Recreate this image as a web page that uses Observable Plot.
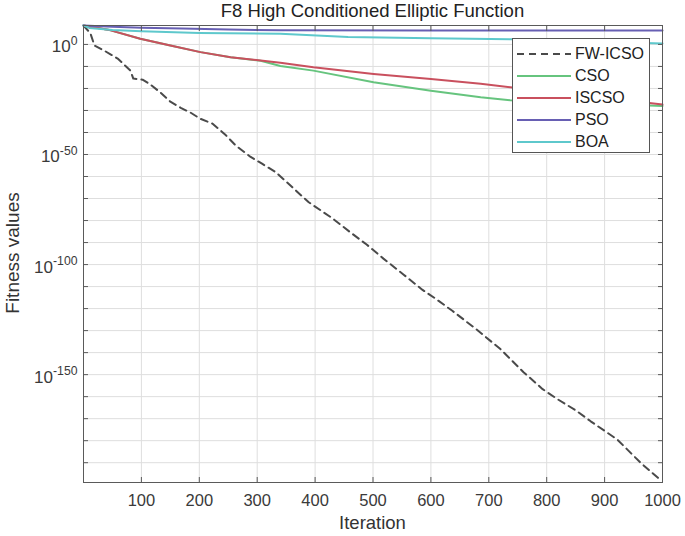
<!DOCTYPE html>
<html><head><meta charset="utf-8">
<script src="https://cdn.jsdelivr.net/npm/d3@7"></script>
<script src="https://cdn.jsdelivr.net/npm/@observablehq/plot@0.6"></script>
<style>
body{margin:0;background:#fff;}
#wrap{position:relative;width:685px;height:536px;font-family:"Liberation Sans",Arial,Helvetica,sans-serif;color:#333;overflow:hidden;}
#title{position:absolute;left:83px;width:579px;top:0px;text-align:center;font-size:18.5px;color:#222;line-height:22px;}
#xlabel{position:absolute;left:83px;width:579px;top:512px;text-align:center;font-size:18.5px;line-height:21px;}
#ylabel{position:absolute;left:12px;top:253px;transform:translate(-50%,-50%) rotate(-90deg);font-size:19px;white-space:nowrap;line-height:21px;}
#legend{position:absolute;left:512px;top:38px;width:136px;height:113px;border:1px solid #555;background:#fff;}
.row{position:absolute;left:0;height:20px;width:136px;}
.row svg{position:absolute;left:4px;top:5px;}
.row span{position:absolute;left:62px;top:0;font-size:16px;line-height:20px;color:#222;}
</style></head><body>
<div id="wrap"></div>
<script>
// ---- data ----
const xTickValues = [100, 200, 300, 400, 500, 600, 700, 800, 900, 1000];
const yLabelExponents = [0, -50, -100, -150];
const yGridExponents = [0, -10, -20, -30, -40, -50, -60, -70, -80, -90, -100, -110, -120, -130, -140, -150, -160, -170, -180, -190];
const seriesNames = ["FW-ICSO", "CSO", "ISCSO", "PSO", "BOA"];

const fwicsoIter = [0, 12, 19, 35, 59, 81, 86, 102, 116, 133, 150, 168, 185, 202, 223, 245, 262, 288, 309, 332, 389, 430, 461, 489, 518, 553, 585, 608, 637, 680, 720, 760, 793, 819, 850, 876, 922, 962, 997];
const fwicsoLog10 = [8.6, 5.0, -0.5, -2.7, -6.4, -11.9, -15.5, -16, -18.3, -21.9, -26, -28.8, -31, -33.8, -36, -41, -45.7, -51, -54.3, -58, -71.7, -79, -85.4, -90.9, -97.3, -104.6, -111.4, -115.5, -121, -129.7, -138.4, -148.9, -156.6, -161.2, -166.2, -171.2, -179.5, -190, -198];

const csoIter = [0, 47, 98, 150, 202, 254, 306, 340, 397, 501, 600, 686, 737, 1000];
const csoLog10 = [8.6, 6.4, 2.6, -0.5, -3.5, -5.8, -7.4, -9.8, -11.9, -17.2, -21.0, -24.0, -25.4, -28.0];

const iscsoIter = [0, 47, 98, 150, 202, 254, 306, 340, 397, 501, 600, 686, 737, 1000];
const iscsoLog10 = [8.6, 6.4, 2.6, -0.5, -3.5, -5.8, -7.3, -8.3, -10.4, -13.4, -15.7, -17.9, -19.5, -27.3];

const psoIter = [0, 50, 100, 170, 250, 340, 600, 1000];
const psoLog10 = [8.6, 8.0, 7.6, 7.2, 6.8, 6.4, 6.3, 6.3];

const boaIter = [0, 10, 50, 100, 200, 340, 457, 600, 740, 850, 1000];
const boaLog10 = [8.6, 7.5, 6.6, 6.0, 5.2, 4.8, 3.4, 2.8, 2.3, 1.6, 0.4];

// ---- styles ----
const seriesStyle = {
  "FW-ICSO": {stroke: "#4a4a4a", dash: "7,5"},
  "CSO": {stroke: "#66c47e", dash: null},
  "ISCSO": {stroke: "#c9505e", dash: null},
  "PSO": {stroke: "#675fb3", dash: null},
  "BOA": {stroke: "#5ec8cc", dash: null}
};

const raw = {
  "FW-ICSO": [fwicsoIter, fwicsoLog10],
  "CSO": [csoIter, csoLog10],
  "ISCSO": [iscsoIter, iscsoLog10],
  "PSO": [psoIter, psoLog10],
  "BOA": [boaIter, boaLog10]
};
const table = {};
for (const name of seriesNames) {
  const [it, lg] = raw[name];
  table[name] = it.map((x, i) => ({iter: x, value: Math.pow(10, lg[i]), series: name}));
}

const yGridValues = yGridExponents.map(e => Math.pow(10, e));
const yLabelValues = yLabelExponents.map(e => Math.pow(10, e));
const none = () => "";

const lineMarks = seriesNames.map(name => Plot.line(table[name], {
  x: "iter", y: "value",
  stroke: seriesStyle[name].stroke,
  strokeWidth: 2,
  strokeDasharray: seriesStyle[name].dash,
  strokeLinejoin: "round"
}));

const svg = Plot.plot({
  width: 685, height: 536,
  marginLeft: 83, marginRight: 23, marginTop: 25, marginBottom: 54,
  style: {fontFamily: '"Liberation Sans", Arial, Helvetica, sans-serif', fontSize: "16px", color: "#333", background: "#fff", overflow: "visible"},
  x: {domain: [0, 1000], label: null},
  y: {type: "log", domain: [Math.pow(10, -199), Math.pow(10, 8.6)], label: null},
  marks: [
    Plot.gridY(yGridValues, {stroke: "#dedede", strokeOpacity: 1}),
    Plot.gridX(xTickValues, {stroke: "#dedede", strokeOpacity: 1}),
    ...lineMarks,
    Plot.frame({stroke: "#5a5a5a"}),
    Plot.axisX(xTickValues, {anchor: "bottom", tickSize: -5, tickFormat: none, stroke: "#5a5a5a", label: null}),
    Plot.axisX(xTickValues, {anchor: "top", tickSize: -5, tickFormat: none, stroke: "#5a5a5a", label: null}),
    Plot.axisY(yGridValues, {anchor: "left", tickSize: -5, tickFormat: none, stroke: "#5a5a5a", label: null}),
    Plot.axisY(yGridValues, {anchor: "right", tickSize: -5, tickFormat: none, stroke: "#5a5a5a", label: null}),
    Plot.axisX(xTickValues, {anchor: "bottom", tickSize: 0, tickPadding: 12, fontSize: 16.5, fill: "#3a3a3a", label: null,
      tickFormat: d => String(d)}),
    Plot.axisY(yLabelValues, {anchor: "left", tickSize: 0, tickPadding: 6, fontSize: 17, fill: "#3a3a3a", label: null,
      tickFormat: d => "10^" + Math.round(Math.log10(d))})
  ]
});

const wrap = document.getElementById("wrap");
wrap.appendChild(svg);

// superscript exponents on y tick labels
d3.select(svg).selectAll('g[aria-label="y-axis tick label"] text').each(function () {
  const t = this.textContent;
  if (!t.includes("^")) return;
  const exp = t.split("^")[1];
  const sel = d3.select(this);
  sel.text(null);
  sel.append("tspan").attr("dy", "0.15em").text("10");
  sel.append("tspan").attr("dy", "-0.6em").attr("font-size", "0.72em").text(exp);
});

// title & axis labels
const title = document.createElement("div"); title.id = "title"; title.textContent = "F8 High Conditioned Elliptic Function"; wrap.appendChild(title);
const xl = document.createElement("div"); xl.id = "xlabel"; xl.textContent = "Iteration"; wrap.appendChild(xl);
const yl = document.createElement("div"); yl.id = "ylabel"; yl.textContent = "Fitness values"; wrap.appendChild(yl);

// legend
const legend = document.createElement("div"); legend.id = "legend";
seriesNames.forEach((name, i) => {
  const row = document.createElement("div"); row.className = "row";
  row.style.top = (5 + 22 * i) + "px";
  const st = seriesStyle[name];
  row.innerHTML = `<svg width="54" height="10"><line x1="0" y1="5" x2="54" y2="5" stroke="${st.stroke}" stroke-width="2" ${st.dash ? `stroke-dasharray="${st.dash}"` : ""}/></svg><span>${name}</span>`;
  legend.appendChild(row);
});
wrap.appendChild(legend);
</script>
</body></html>
